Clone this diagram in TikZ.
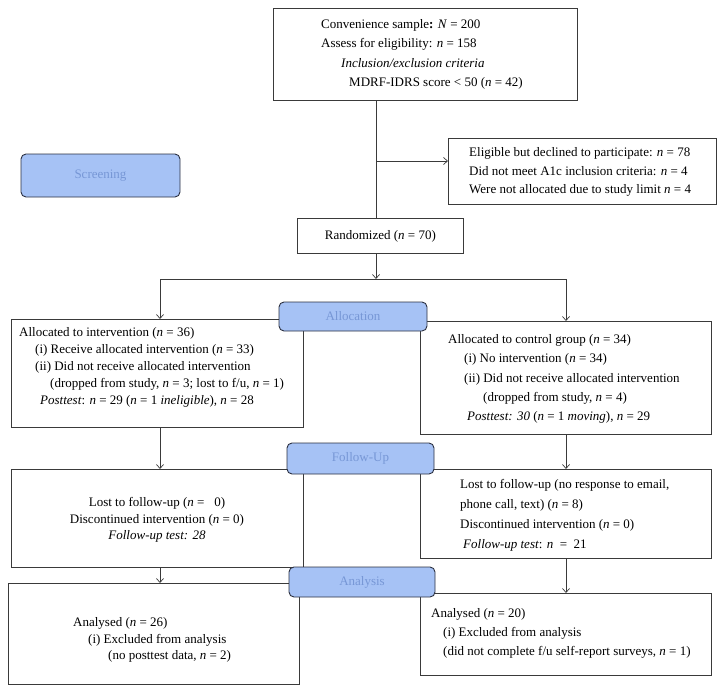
\documentclass[tikz,border=0pt]{standalone}
\usepackage{fontspec}
\setmainfont{Liberation Serif}
\usetikzlibrary{arrows.meta}
\definecolor{boxline}{HTML}{3A3A3A}
\definecolor{stageline}{HTML}{2B3040}
\definecolor{stagefill}{HTML}{A6C2F5}
\definecolor{stagetext}{HTML}{7797D6}
\newcommand{\nn}{\textit{n}}
\begin{document}
\begin{tikzpicture}[x=1pt,y=-1pt,
  box/.style={draw=boxline, line width=0.8pt, rectangle, inner sep=0pt, anchor=north west},
  txt/.style={anchor=base west, align=left, inner sep=0pt, font=\fontsize{13}{#1}\selectfont},
  ctxt/.style={anchor=base, align=center, inner sep=0pt, font=\fontsize{13}{#1}\selectfont},
  stage/.style={draw=stageline, fill=stagefill, rounded corners=5pt, line width=0.9pt, text=stagetext, font=\fontsize{13}{15}\selectfont, inner sep=0pt},
  conn/.style={draw=boxline, line width=0.7pt},
  arr/.style={conn, -{Straight Barb[length=4pt,width=7pt]}}
]
\useasboundingbox (0,0) rectangle (725,693);

% boxes
\node[box, minimum width=304pt, minimum height=92pt] (top) at (273,8) {};
\node[box, minimum width=268pt, minimum height=66pt] (excl) at (448,138) {};
\node[box, minimum width=166pt, minimum height=35pt] (rand) at (297,218) {};
\node[box, minimum width=292pt, minimum height=108pt] (la) at (11,319) {};
\node[box, minimum width=291pt, minimum height=113pt] (ra) at (420,321) {};
\node[box, minimum width=292pt, minimum height=98pt] (lf) at (11,469) {};
\node[box, minimum width=291pt, minimum height=89pt] (rf) at (420,469) {};
\node[box, minimum width=291pt, minimum height=101pt] (lan) at (8,583) {};
\node[box, minimum width=291pt, minimum height=82pt] (ran) at (420,593) {};

% texts (anchored at the baseline of their last line)
\node[txt=19.3] (ttop) at (321,86.4) {Convenience sample\textbf{:} \textit{N} = 200\\
Assess for eligibility: \nn{} = 158\\
\hspace*{20pt}\textit{Inclusion/exclusion criteria}\\
\hspace*{28pt}MDRF-IDRS score < 50 (\nn{} = 42)};
\node[txt=18.5] (texcl) at (469,193.5) {Eligible but declined to participate: \nn{} = 78\\
Did not meet A1c inclusion criteria: \nn{} = 4\\
Were not allocated due to study limit \nn{} = 4};
\node[inner sep=0pt, font=\fontsize{13}{15}\selectfont] (trand) at (rand.center) {Randomized (\nn{} = 70)};
\node[txt=17] (tla) at (19,404.5) {Allocated to intervention (\nn{} = 36)\\
\hspace*{16pt}(i) Receive allocated intervention (\nn{} = 33)\\
\hspace*{16pt}(ii) Did not receive allocated intervention\\
\hspace*{31pt}(dropped from study, \nn{} = 3; lost to f/u, \nn{} = 1)\\
\hspace*{21pt}\textit{Posttest}: \nn{} = 29 (\nn{} = 1 \textit{ineligible}), \nn{} = 28};
\node[txt=19.3] (tra) at (448,420.7) {Allocated to control group (\nn{} = 34)\\
\hspace*{16pt}(i) No intervention (\nn{} = 34)\\
\hspace*{16pt}(ii) Did not receive allocated intervention\\
\hspace*{35pt}(dropped from study, \nn{} = 4)\\
\hspace*{19pt}\textit{Posttest: 30} (\nn{} = 1 \textit{moving}), \nn{} = 29};
\node[ctxt=16.5] (tlf) at (157,539.5) {Lost to follow-up (\nn{} = \ \ 0)\\
Discontinued intervention (\nn{} = 0)\\
\textit{Follow-up test: 28}};
\node[txt=20] (trf) at (460,548.5) {Lost to follow-up (no response to email,\\
phone call, text) (\nn{} = 8)\\
Discontinued intervention (\nn{} = 0)\\
\hspace*{3pt}\textit{Follow-up test}: \nn{} \ = \ 21};
\node[txt=16.5] (tlan) at (73,659.5) {Analysed (\nn{} = 26)\\
\hspace*{15pt}(i) Excluded from analysis\\
\hspace*{35pt}(no posttest data, \nn{} = 2)};
\node[txt=19] (tran) at (431,655.5) {Analysed (\nn{} = 20)\\
\hspace*{12pt}(i) Excluded from analysis\\
\hspace*{12pt}(did not complete f/u self-report surveys, \nn{} = 1)};

% connectors
\coordinate (tx) at (376,0);
\coordinate (ex) at (376,161);
\coordinate (sl) at (160,279);
\coordinate (sr) at (566,279);
\draw[conn] (tx |- top.south) -- (tx |- rand.north);
\draw[arr] (ex) -- (ex -| excl.west);
\draw[arr] (tx |- rand.south) -- (tx |- sl);
\draw[conn] (sl) -- (sr);
\draw[arr] (sl) -- (sl |- la.north);
\draw[arr] (sr) -- (sr |- ra.north);
\draw[arr] (sl |- la.south) -- (sl |- lf.north);
\draw[arr] (sl |- lf.south) -- (sl |- lan.north);
\draw[arr] (sr |- ra.south) -- (sr |- rf.north);
\draw[arr] (sr |- rf.south) -- (sr |- ran.north);

% stage labels
\node[stage, minimum width=159pt, minimum height=43pt] (screen) at (100.5,175.5) {Screening};
\node[stage, minimum width=148pt, minimum height=29pt] (alloc) at (353,316.5) {Allocation};
\node[stage, minimum width=147pt, minimum height=31pt] (follow) at (360.5,458.5) {Follow-Up};
\node[stage, minimum width=146pt, minimum height=30pt] (anal) at (362,582) {Analysis};
\end{tikzpicture}
\end{document}
